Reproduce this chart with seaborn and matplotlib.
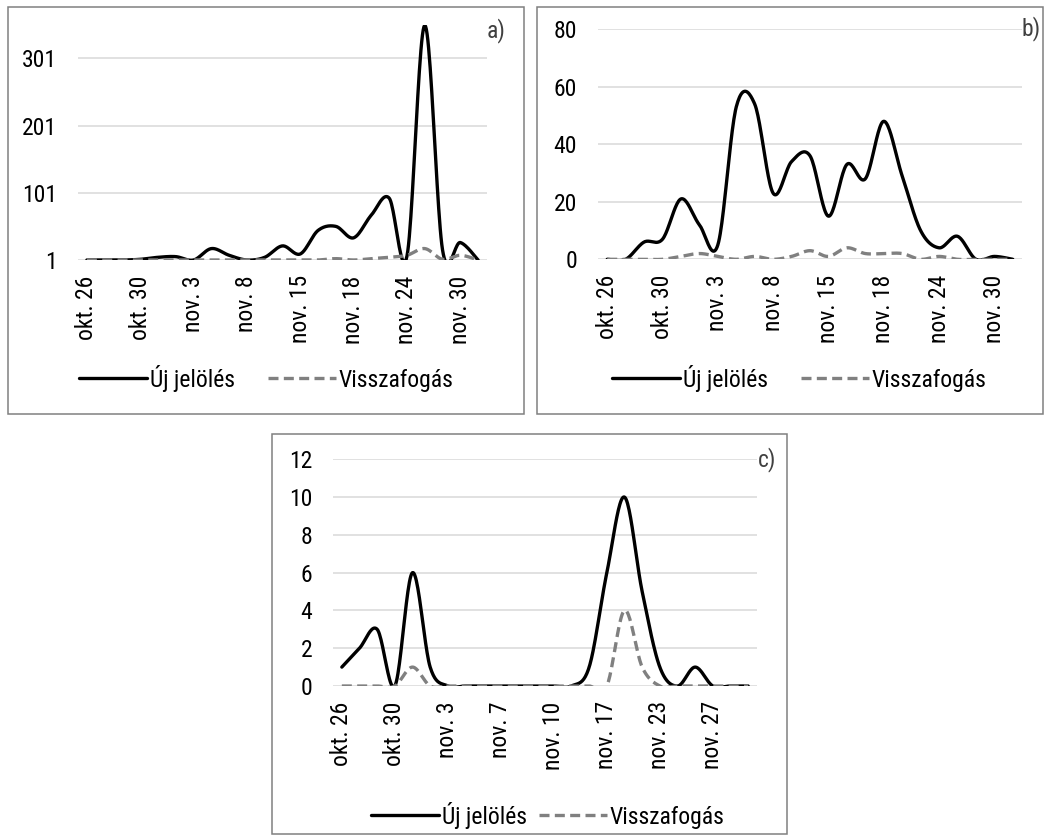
import numpy as np
import pandas as pd
import seaborn as sns
import matplotlib.pyplot as plt
from matplotlib.patches import Rectangle
from matplotlib import font_manager

# sampling dates (only every third one is labelled on the axis)
dates_ab = ['okt. 26', 'okt. 27', 'okt. 29', 'okt. 30', 'okt. 31', 'nov. 2', 'nov. 3', 'nov. 5',
            'nov. 6', 'nov. 8', 'nov. 11', 'nov. 13', 'nov. 15', 'nov. 16', 'nov. 17', 'nov. 18',
            'nov. 20', 'nov. 22', 'nov. 24', 'nov. 26', 'nov. 28', 'nov. 30', 'dec. 1']
dates_c = ['okt. 26', 'okt. 27', 'okt. 29', 'okt. 30', 'nov. 1', 'nov. 2', 'nov. 3', 'nov. 4',
           'nov. 6', 'nov. 7', 'nov. 8', 'nov. 9', 'nov. 10', 'nov. 13', 'nov. 15', 'nov. 17',
           'nov. 19', 'nov. 21', 'nov. 23', 'nov. 24', 'nov. 26', 'nov. 27', 'nov. 29', 'nov. 30']

a_new = [1, 1, 1, 2, 5, 6, 1, 18, 8, 1, 5, 22, 10, 45, 51, 34, 68, 93, 7, 350, 16, 27, 1]
a_rec = [1, 1, 1, 1, 1, 1, 1, 1, 1, 1, 1, 1, 1, 1, 3, 1, 3, 5, 8, 18, 2, 8, 1]

b_new = [0, 0, 6, 7, 21, 12, 5, 53, 54, 23, 34, 36, 15, 33, 28, 48, 29, 10, 4, 8, 0, 1, 0]
b_rec = [0, 0, 0, 0, 1, 2, 1, 0, 1, 0, 1, 3, 1, 4, 2, 2, 2, 0, 1, 0, 0, 0, 0]

c_new = [1, 2, 3, 0, 6, 1, 0, 0, 0, 0, 0, 0, 0, 0, 1, 6, 10, 5, 1, 0, 1, 0, 0, 0]
c_rec = [0, 0, 0, 0, 1, 0, 0, 0, 0, 0, 0, 0, 0, 0, 0, 0, 4, 1, 0, 0, 0, 0, 0, 0]

sns.set_style('white')
names = {f.name for f in font_manager.fontManager.ttflist}
narrow = [n for n in ['Liberation Sans Narrow', 'DejaVu Sans Condensed', 'Roboto Condensed',
                      'Open Sans Condensed'] if n in names]
plt.rcParams['font.family'] = narrow + ['Liberation Sans', 'DejaVu Sans']
plt.rcParams['text.color'] = 'black'
plt.rcParams['xtick.color'] = 'black'
plt.rcParams['ytick.color'] = 'black'
FS = 17 if narrow else 15

W, H = 1046, 838
fig = plt.figure(figsize=(W / 100, H / 100), dpi=100)


def px_axes(l, t, r, b):
    return fig.add_axes([l / W, 1 - b / H, (r - l) / W, (b - t) / H])


def smooth(y, steps=24):
    # Excel style smoothed line: bezier through the points, control points = catmull-rom
    pts = np.column_stack([np.arange(len(y)), np.asarray(y, dtype=float)])
    ext = np.vstack([pts[0], pts, pts[-1]])
    t = np.linspace(0, 1, steps)[:, None]
    out = []
    for i in range(len(y) - 1):
        p0, p1, p2, p3 = ext[i], ext[i + 1], ext[i + 2], ext[i + 3]
        c1 = p1 + (p2 - p0) / 6
        c2 = p2 - (p3 - p1) / 6
        seg = (1 - t) ** 3 * p1 + 3 * (1 - t) ** 2 * t * c1 + 3 * (1 - t) * t ** 2 * c2 + t ** 3 * p2
        out.append(seg if i == 0 else seg[1:])
    out = np.vstack(out)
    return pd.DataFrame({'x': out[:, 0], 'y': out[:, 1]})


def panel(ax, new, rec, dates, yticks, ylim, tag, tagxy, legx, legy, colsp):
    sns.lineplot(data=smooth(new), x='x', y='y', ax=ax, color='black', lw=2.4,
                 sort=False, estimator=None, label='Új jelölés')
    sns.lineplot(data=smooth(rec), x='x', y='y', ax=ax, color='#808080', lw=2.4,
                 sort=False, estimator=None, label='Visszafogás', linestyle=(0, (3, 1.6)))
    ax.set_xlim(-0.5, len(dates) - 0.5)
    ax.set_ylim(*ylim)
    ax.set_yticks(yticks)
    ax.set_xticks(range(0, len(dates), 3))
    ax.set_xticklabels(dates[::3], rotation=90)
    ax.tick_params(axis='y', length=0, pad=15, labelsize=FS)
    ax.tick_params(axis='x', length=0, pad=11, labelsize=FS)
    ax.set_xlabel('')
    ax.set_ylabel('')
    ax.yaxis.grid(True, color='#d9d9d9', lw=1.1)
    ax.set_axisbelow(True)
    sns.despine(ax=ax, left=True, bottom=True)
    fig.text(tagxy[0] / W, 1 - tagxy[1] / H, tag, ha='right', va='center', fontsize=FS, color='#404040')
    ax.legend(loc='center', bbox_to_anchor=(legx / W, 1 - legy / H), bbox_transform=fig.transFigure,
              ncol=2, frameon=False, fontsize=FS, handlelength=68 / (FS * 1.389), handletextpad=0.12,
              columnspacing=colsp, borderaxespad=0)


for (l, t, r, b) in [(8, 7, 524, 414), (537, 7, 1043, 414), (272, 434, 787, 834)]:
    fig.add_artist(Rectangle((l / W, 1 - b / H), (r - l) / W, (b - t) / H, transform=fig.transFigure,
                             fill=False, ec='#808080', lw=1.1))

ax_a = px_axes(78, 24.7, 487, 260)
panel(ax_a, a_new, a_rec, dates_ab, [1, 101, 201, 301], (1, 351), 'a)', (506, 31), 266, 378, 1.4)

ax_b = px_axes(598, 29.3, 1022, 259.3)
panel(ax_b, b_new, b_rec, dates_ab, [0, 20, 40, 60, 80], (0, 80), 'b)', (1041, 29), 799, 378, 1.4)

ax_c = px_axes(333, 459.3, 757, 686)
panel(ax_c, c_new, c_rec, dates_c, [0, 2, 4, 6, 8, 10, 12], (0, 12), 'c)', (776, 460), 548, 815, 0.5)

fig.savefig('out.png', dpi=100)
